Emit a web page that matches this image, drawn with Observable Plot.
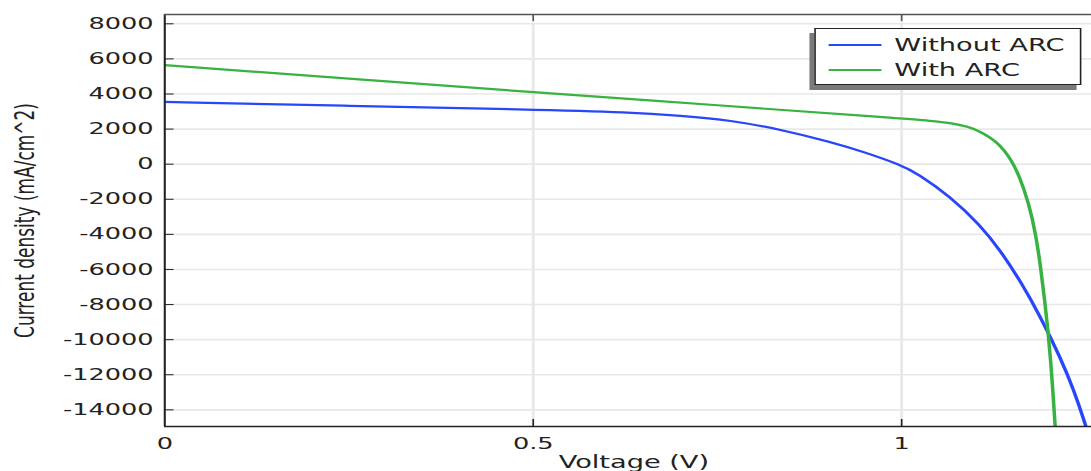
<!DOCTYPE html>
<html>
<head>
<meta charset="utf-8">
<script src="https://cdn.jsdelivr.net/npm/d3@7"></script>
<script src="https://cdn.jsdelivr.net/npm/@observablehq/plot@0.6"></script>
<style>
html, body { margin: 0; padding: 0; background: #fff; overflow: hidden; }
#wrap { position: relative; width: 682px; height: 471px; transform: scaleX(1.5997); transform-origin: 0 0; font-family: "DejaVu Sans", sans-serif; }
#legend { position: absolute; left: 509.4px; top: 28.3px; width: 166.6px; height: 56.7px; box-sizing: border-box; border: 1.2px solid #222; background: #fff; box-shadow: -3px 5px 0 #7a7a7a; }
.sw { position: absolute; left: 8px; width: 32.5px; height: 0; border-top: 2px solid; }
.lab { position: absolute; left: 48.7px; font-size: 17px; color: #222; line-height: 20px; white-space: nowrap; }
</style>
</head>
<body>
<div id="wrap"><div id="chart"></div><div id="legend"></div></div>
<script>
// ---- data ----
const seriesNames = ["Without ARC", "With ARC"];
const seriesColors = ["#2846fa", "#38b240"];

const voltageWithout = [0, 0.2523, 0.4965, 0.6321, 0.6999, 0.7678, 0.8356, 0.9034, 0.9486, 0.9986, 1.0217, 1.0662, 1.1069, 1.134, 1.1612, 1.1883, 1.2154, 1.2334, 1.2494, 1.2534];
const currentWithout = [3550, 3322, 3117, 2963, 2763, 2507, 1977, 1271, 701, -40, -541, -1858, -3481, -4929, -6661, -8689, -11026, -12843, -14843, -15425];

const voltageWith = [0, 0.25, 0.5, 0.75, 1.0, 1.04, 1.066, 1.09, 1.107, 1.12, 1.13, 1.1388, 1.148, 1.1592, 1.1727, 1.1818, 1.1886, 1.194, 1.1985, 1.2022, 1.2058, 1.2085];
const currentWith = [5640, 4880, 4100, 3360, 2600, 2470, 2355, 2140, 1850, 1520, 1200, 800, 280, -600, -2240, -3950, -5850, -7750, -9460, -11200, -13300, -15100];

const xTicks = [0, 0.5, 1];
const xTickLabels = ["0", "0.5", "1"];
const yTicks = [8000, 6000, 4000, 2000, 0, -2000, -4000, -6000, -8000, -10000, -12000, -14000];
const xDomain = [0, 1.258];
const yDomain = [-14950, 8530];
const xLabel = "Voltage (V)";
const yLabel = "Current density (mA/cm^2)";

// ---- build table ----
const rows = [
  ...voltageWithout.map((v, i) => ({series: seriesNames[0], V: v, J: currentWithout[i]})),
  ...voltageWith.map((v, i) => ({series: seriesNames[1], V: v, J: currentWith[i]}))
];

const chart = Plot.plot({
  width: 682,
  height: 471,
  marginLeft: 102.5,
  marginRight: 0,
  marginTop: 14,
  marginBottom: 45,
  style: {fontFamily: "DejaVu Sans", fontSize: "16px", color: "#222", background: "#fff"},
  x: {domain: xDomain, label: null},
  y: {domain: yDomain, label: null},
  color: {domain: seriesNames, range: seriesColors},
  marks: [
    Plot.gridY({ticks: yTicks, stroke: "#e8e8e8", strokeOpacity: 1, strokeWidth: 1.6}),
    Plot.gridX({ticks: xTicks.slice(1), stroke: "#e8e8e8", strokeOpacity: 1, strokeWidth: 1.8}),
    Plot.line(rows, {x: "V", y: "J", z: "series", stroke: "series", strokeWidth: 2.2, curve: "basis", clip: true}),
    Plot.ruleX([xDomain[0]], {stroke: "#222", strokeWidth: 1.3}),
    Plot.ruleY([yDomain[0]], {stroke: "#222", strokeWidth: 1.5}),
    Plot.ruleY([yDomain[1]], {stroke: "#555", strokeWidth: 1.5}),
    Plot.axisY({ticks: yTicks, tickSize: 0, tickPadding: 7, tickFormat: d => String(d), label: null, fill: "#222"}),
    Plot.axisY({ticks: yTicks, tickSize: 6, dx: 6, fill: "none", stroke: "#222", label: null}),
    Plot.axisX({ticks: xTicks, tickSize: 0, tickPadding: 11.5, tickFormat: d => xTickLabels[xTicks.indexOf(d)], label: null, fill: "#222"}),
    Plot.axisX({ticks: xTicks.slice(1), anchor: "bottom", tickSize: 7, dy: -7, fill: "none", stroke: "#222", label: null}),
    Plot.axisX({ticks: xTicks.slice(1), anchor: "top", tickSize: 6, dy: 6, fill: "none", stroke: "#555", label: null}),
    Plot.text([xLabel], {frameAnchor: "bottom", dy: 36, dx: 3.5, textAnchor: "middle", lineAnchor: "middle", fontSize: 17, fill: "#222"}),
    Plot.text([yLabel], {frameAnchor: "left", dx: -87.3, rotate: -90, textAnchor: "middle", lineAnchor: "middle", fontSize: 17, fill: "#222"})
  ]
});
document.getElementById("chart").appendChild(chart);

// ---- legend (HTML overlay inside the plot area) ----
const legend = document.getElementById("legend");
const rowCenters = [15.5, 40.5];
seriesNames.forEach((name, i) => {
  const sw = document.createElement("div");
  sw.className = "sw";
  sw.style.top = (rowCenters[i] - 1) + "px";
  sw.style.borderTopColor = seriesColors[i];
  legend.appendChild(sw);
  const lab = document.createElement("div");
  lab.className = "lab";
  lab.style.top = (rowCenters[i] - 10) + "px";
  lab.textContent = name;
  legend.appendChild(lab);
});
</script>
</body>
</html>
